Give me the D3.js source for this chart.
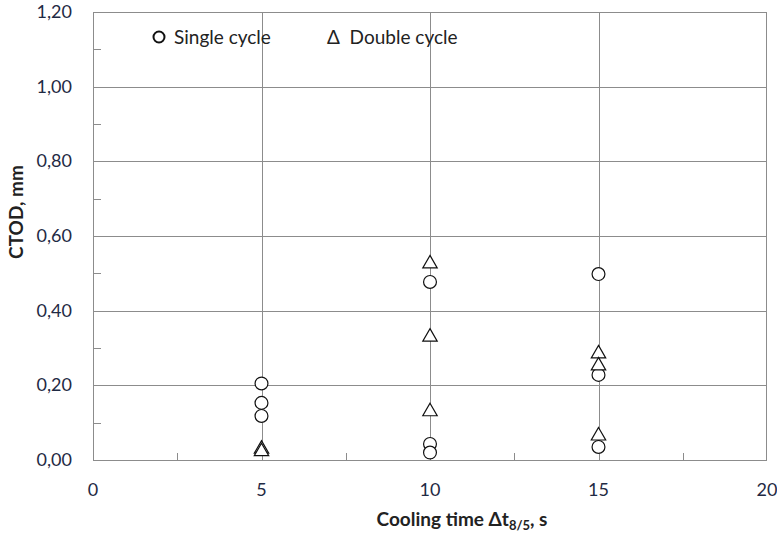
<!DOCTYPE html>
<html>
<head>
<meta charset="utf-8">
<script src="https://cdn.jsdelivr.net/npm/d3@7"></script>
<style>
  body { margin: 0; background: #fff; }
  text { font-family: Lato, "Open Sans", sans-serif; }
</style>
</head>
<body>
<div id="chart"></div>
<script>
// cooling time categories and CTOD values
var singleX = [5, 5, 5, 10, 10, 10, 15, 15, 15];
var singleY = [0.205, 0.153, 0.118, 0.477, 0.043, 0.020, 0.498, 0.228, 0.035];
var doubleX = [5, 5, 10, 10, 10, 15, 15, 15];
var doubleY = [0.027, 0.020, 0.523, 0.327, 0.127, 0.282, 0.250, 0.062];
var xTicks = [0, 5, 10, 15, 20];
var yTicks = [0, 0.2, 0.4, 0.6, 0.8, 1.0, 1.2];

var W = 777, H = 533;
var margin = {top: 12, right: 10, bottom: 73, left: 93};
var width = W - margin.left - margin.right;
var height = H - margin.top - margin.bottom;

var svg = d3.select("#chart").append("svg")
  .attr("width", W).attr("height", H);
var g = svg.append("g")
  .attr("transform", "translate(" + margin.left + "," + margin.top + ")");

var x = d3.scaleLinear().domain([0, 20]).range([0, width]);
var y = d3.scaleLinear().domain([0, 1.2]).range([height, 0]);
var grid = "#8c8c8c";
var fmt = function(d) { return d3.format(".2f")(d).replace(".", ","); };

// horizontal gridlines
g.selectAll(".hg").data(yTicks.slice(1, -1)).enter().append("line")
  .attr("x1", 0).attr("x2", width)
  .attr("y1", function(d) { return Math.round(y(d)) + 0.5; })
  .attr("y2", function(d) { return Math.round(y(d)) + 0.5; })
  .attr("stroke", grid);
// vertical gridlines
g.selectAll(".vg").data(xTicks.slice(1, -1)).enter().append("line")
  .attr("y1", 0).attr("y2", height)
  .attr("x1", function(d) { return Math.round(x(d)) + 0.5; })
  .attr("x2", function(d) { return Math.round(x(d)) + 0.5; })
  .attr("stroke", grid);
// minor ticks inside
g.selectAll(".my").data([0.1, 0.3, 0.5, 0.7, 0.9, 1.1]).enter().append("line")
  .attr("x1", 0).attr("x2", 8)
  .attr("y1", function(d) { return Math.round(y(d)) + 0.5; })
  .attr("y2", function(d) { return Math.round(y(d)) + 0.5; })
  .attr("stroke", grid);
g.selectAll(".mx").data([2.5, 7.5, 12.5, 17.5]).enter().append("line")
  .attr("y1", height).attr("y2", height - 7)
  .attr("x1", function(d) { return Math.round(x(d)) + 0.5; })
  .attr("x2", function(d) { return Math.round(x(d)) + 0.5; })
  .attr("stroke", grid);
// frame
g.append("rect").attr("x", 0.5).attr("y", 0.5)
  .attr("width", width - 1).attr("height", height)
  .attr("fill", "none").attr("stroke", grid);

// tick labels
g.selectAll(".yl").data(yTicks).enter().append("text")
  .attr("x", -21).attr("y", function(d) { return y(d) + 6; })
  .attr("text-anchor", "end").attr("font-size", 18).attr("fill", "#1f2a44")
  .text(fmt);
g.selectAll(".xl").data(xTicks).enter().append("text")
  .attr("x", function(d) { return x(d); }).attr("y", height + 36)
  .attr("text-anchor", "middle").attr("font-size", 18).attr("fill", "#1f2a44")
  .text(function(d) { return d; });

// axis titles
svg.append("text")
  .attr("transform", "translate(23,212) rotate(-90)")
  .attr("text-anchor", "middle").attr("font-size", 19).attr("font-weight", "bold")
  .attr("fill", "#222").text("CTOD, mm");
var xt = svg.append("text")
  .attr("x", 462).attr("y", 526)
  .attr("text-anchor", "middle").attr("font-size", 19).attr("font-weight", "bold")
  .attr("fill", "#222");
xt.append("tspan").text("Cooling time Δt");
xt.append("tspan").attr("font-size", 13).attr("dy", 4).text("8/5");
xt.append("tspan").attr("dy", -4).text(", s");

// markers
var circ = d3.symbol().type(d3.symbolCircle).size(130);
var tri = d3.symbol().type(d3.symbolTriangle).size(90);
g.selectAll(".s").data(d3.range(singleX.length)).enter().append("path")
  .attr("d", circ)
  .attr("transform", function(i) { return "translate(" + x(singleX[i]) + "," + y(singleY[i]) + ")"; })
  .attr("fill", "#fff").attr("stroke", "#111").attr("stroke-width", 1.2);
g.selectAll(".d").data(d3.range(doubleX.length)).enter().append("path")
  .attr("d", tri)
  .attr("transform", function(i) { return "translate(" + x(doubleX[i]) + "," + (y(doubleY[i]) - 1) + ")"; })
  .attr("fill", "#fff").attr("stroke", "#111").attr("stroke-width", 1.2);

// legend
svg.append("circle").attr("cx", 159).attr("cy", 37).attr("r", 5.5)
  .attr("fill", "#fff").attr("stroke", "#111").attr("stroke-width", 2);
svg.append("text").attr("x", 174).attr("y", 44).attr("font-size", 19)
  .attr("fill", "#222").text("Single cycle");
svg.append("text").attr("x", 327).attr("y", 44).attr("font-size", 19)
  .attr("fill", "#222").attr("xml:space", "preserve").text("Δ  Double cycle");
</script>
</body>
</html>
